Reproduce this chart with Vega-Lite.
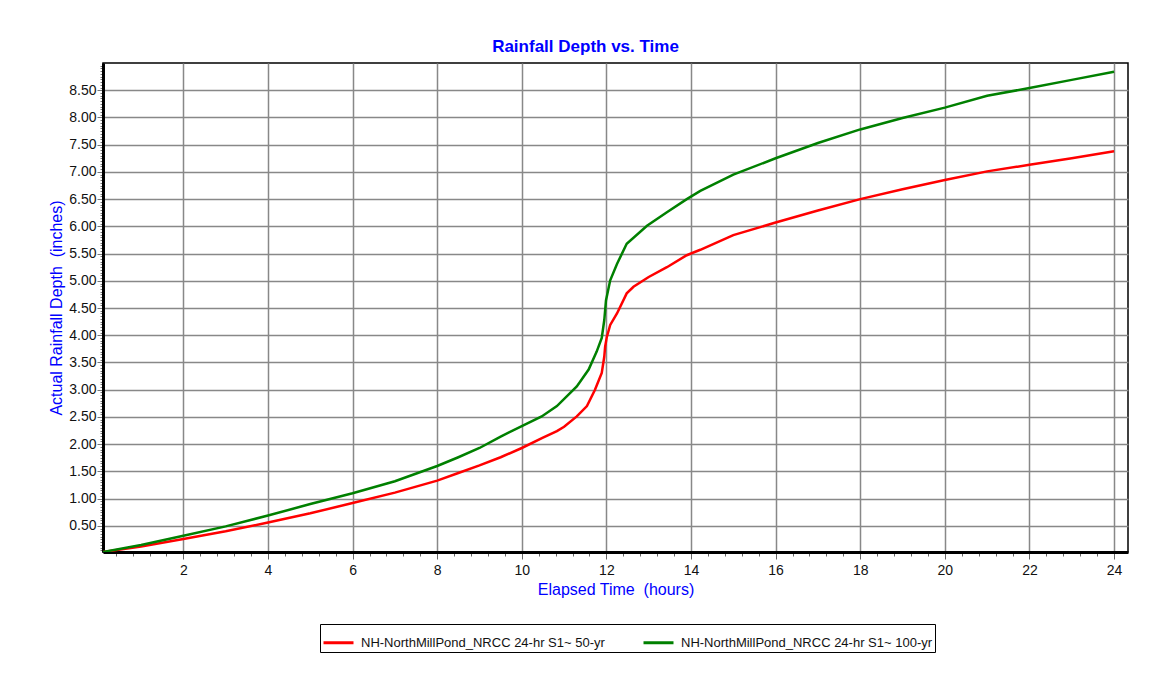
{
  "$schema": "https://vega.github.io/schema/vega-lite/v6.json",
  "width": 1025,
  "height": 489,
  "autosize": {"type": "none"},
  "padding": {"left": 103, "top": 63, "right": 34, "bottom": 123},
  "background": "white",
  "title": {
    "text": "Rainfall Depth vs. Time",
    "color": "#0000FF",
    "font": "Liberation Sans",
    "fontSize": 17,
    "fontWeight": "bold",
    "anchor": "middle",
    "baseline": "alphabetic",
    "offset": -10,
    "dx": -30
  },
  "config": {
    "view": {"stroke": "black", "strokeWidth": 1.5},
    "font": "Liberation Sans"
  },
  "data": {
    "values": [
      {"t": 0.1, "depth": 0.02, "series": "NH-NorthMillPond_NRCC 24-hr S1~ 50-yr"},
      {"t": 1, "depth": 0.12, "series": "NH-NorthMillPond_NRCC 24-hr S1~ 50-yr"},
      {"t": 2, "depth": 0.26, "series": "NH-NorthMillPond_NRCC 24-hr S1~ 50-yr"},
      {"t": 3, "depth": 0.40, "series": "NH-NorthMillPond_NRCC 24-hr S1~ 50-yr"},
      {"t": 4, "depth": 0.56, "series": "NH-NorthMillPond_NRCC 24-hr S1~ 50-yr"},
      {"t": 5, "depth": 0.73, "series": "NH-NorthMillPond_NRCC 24-hr S1~ 50-yr"},
      {"t": 6, "depth": 0.92, "series": "NH-NorthMillPond_NRCC 24-hr S1~ 50-yr"},
      {"t": 7, "depth": 1.11, "series": "NH-NorthMillPond_NRCC 24-hr S1~ 50-yr"},
      {"t": 8, "depth": 1.33, "series": "NH-NorthMillPond_NRCC 24-hr S1~ 50-yr"},
      {"t": 8.5, "depth": 1.47, "series": "NH-NorthMillPond_NRCC 24-hr S1~ 50-yr"},
      {"t": 9, "depth": 1.61, "series": "NH-NorthMillPond_NRCC 24-hr S1~ 50-yr"},
      {"t": 9.5, "depth": 1.76, "series": "NH-NorthMillPond_NRCC 24-hr S1~ 50-yr"},
      {"t": 10, "depth": 1.93, "series": "NH-NorthMillPond_NRCC 24-hr S1~ 50-yr"},
      {"t": 10.5, "depth": 2.12, "series": "NH-NorthMillPond_NRCC 24-hr S1~ 50-yr"},
      {"t": 10.83, "depth": 2.24, "series": "NH-NorthMillPond_NRCC 24-hr S1~ 50-yr"},
      {"t": 11.0, "depth": 2.32, "series": "NH-NorthMillPond_NRCC 24-hr S1~ 50-yr"},
      {"t": 11.3, "depth": 2.51, "series": "NH-NorthMillPond_NRCC 24-hr S1~ 50-yr"},
      {"t": 11.54, "depth": 2.70, "series": "NH-NorthMillPond_NRCC 24-hr S1~ 50-yr"},
      {"t": 11.73, "depth": 3.00, "series": "NH-NorthMillPond_NRCC 24-hr S1~ 50-yr"},
      {"t": 11.89, "depth": 3.31, "series": "NH-NorthMillPond_NRCC 24-hr S1~ 50-yr"},
      {"t": 11.95, "depth": 3.61, "series": "NH-NorthMillPond_NRCC 24-hr S1~ 50-yr"},
      {"t": 11.97, "depth": 3.79, "series": "NH-NorthMillPond_NRCC 24-hr S1~ 50-yr"},
      {"t": 12.01, "depth": 3.97, "series": "NH-NorthMillPond_NRCC 24-hr S1~ 50-yr"},
      {"t": 12.09, "depth": 4.19, "series": "NH-NorthMillPond_NRCC 24-hr S1~ 50-yr"},
      {"t": 12.25, "depth": 4.40, "series": "NH-NorthMillPond_NRCC 24-hr S1~ 50-yr"},
      {"t": 12.48, "depth": 4.77, "series": "NH-NorthMillPond_NRCC 24-hr S1~ 50-yr"},
      {"t": 12.64, "depth": 4.89, "series": "NH-NorthMillPond_NRCC 24-hr S1~ 50-yr"},
      {"t": 13.0, "depth": 5.07, "series": "NH-NorthMillPond_NRCC 24-hr S1~ 50-yr"},
      {"t": 13.43, "depth": 5.25, "series": "NH-NorthMillPond_NRCC 24-hr S1~ 50-yr"},
      {"t": 13.9, "depth": 5.47, "series": "NH-NorthMillPond_NRCC 24-hr S1~ 50-yr"},
      {"t": 14.22, "depth": 5.57, "series": "NH-NorthMillPond_NRCC 24-hr S1~ 50-yr"},
      {"t": 15, "depth": 5.84, "series": "NH-NorthMillPond_NRCC 24-hr S1~ 50-yr"},
      {"t": 16, "depth": 6.07, "series": "NH-NorthMillPond_NRCC 24-hr S1~ 50-yr"},
      {"t": 17, "depth": 6.29, "series": "NH-NorthMillPond_NRCC 24-hr S1~ 50-yr"},
      {"t": 18, "depth": 6.50, "series": "NH-NorthMillPond_NRCC 24-hr S1~ 50-yr"},
      {"t": 19, "depth": 6.68, "series": "NH-NorthMillPond_NRCC 24-hr S1~ 50-yr"},
      {"t": 20, "depth": 6.85, "series": "NH-NorthMillPond_NRCC 24-hr S1~ 50-yr"},
      {"t": 21, "depth": 7.01, "series": "NH-NorthMillPond_NRCC 24-hr S1~ 50-yr"},
      {"t": 22, "depth": 7.13, "series": "NH-NorthMillPond_NRCC 24-hr S1~ 50-yr"},
      {"t": 23, "depth": 7.25, "series": "NH-NorthMillPond_NRCC 24-hr S1~ 50-yr"},
      {"t": 24, "depth": 7.38, "series": "NH-NorthMillPond_NRCC 24-hr S1~ 50-yr"},
      {"t": 0.1, "depth": 0.02, "series": "NH-NorthMillPond_NRCC 24-hr S1~ 100-yr"},
      {"t": 1, "depth": 0.15, "series": "NH-NorthMillPond_NRCC 24-hr S1~ 100-yr"},
      {"t": 2, "depth": 0.32, "series": "NH-NorthMillPond_NRCC 24-hr S1~ 100-yr"},
      {"t": 3, "depth": 0.49, "series": "NH-NorthMillPond_NRCC 24-hr S1~ 100-yr"},
      {"t": 4, "depth": 0.69, "series": "NH-NorthMillPond_NRCC 24-hr S1~ 100-yr"},
      {"t": 5, "depth": 0.90, "series": "NH-NorthMillPond_NRCC 24-hr S1~ 100-yr"},
      {"t": 6, "depth": 1.10, "series": "NH-NorthMillPond_NRCC 24-hr S1~ 100-yr"},
      {"t": 7, "depth": 1.32, "series": "NH-NorthMillPond_NRCC 24-hr S1~ 100-yr"},
      {"t": 8, "depth": 1.60, "series": "NH-NorthMillPond_NRCC 24-hr S1~ 100-yr"},
      {"t": 8.5, "depth": 1.76, "series": "NH-NorthMillPond_NRCC 24-hr S1~ 100-yr"},
      {"t": 9, "depth": 1.93, "series": "NH-NorthMillPond_NRCC 24-hr S1~ 100-yr"},
      {"t": 9.5, "depth": 2.14, "series": "NH-NorthMillPond_NRCC 24-hr S1~ 100-yr"},
      {"t": 10, "depth": 2.33, "series": "NH-NorthMillPond_NRCC 24-hr S1~ 100-yr"},
      {"t": 10.47, "depth": 2.51, "series": "NH-NorthMillPond_NRCC 24-hr S1~ 100-yr"},
      {"t": 10.83, "depth": 2.70, "series": "NH-NorthMillPond_NRCC 24-hr S1~ 100-yr"},
      {"t": 11.3, "depth": 3.06, "series": "NH-NorthMillPond_NRCC 24-hr S1~ 100-yr"},
      {"t": 11.58, "depth": 3.37, "series": "NH-NorthMillPond_NRCC 24-hr S1~ 100-yr"},
      {"t": 11.77, "depth": 3.70, "series": "NH-NorthMillPond_NRCC 24-hr S1~ 100-yr"},
      {"t": 11.89, "depth": 3.95, "series": "NH-NorthMillPond_NRCC 24-hr S1~ 100-yr"},
      {"t": 11.95, "depth": 4.28, "series": "NH-NorthMillPond_NRCC 24-hr S1~ 100-yr"},
      {"t": 11.99, "depth": 4.64, "series": "NH-NorthMillPond_NRCC 24-hr S1~ 100-yr"},
      {"t": 12.09, "depth": 5.01, "series": "NH-NorthMillPond_NRCC 24-hr S1~ 100-yr"},
      {"t": 12.25, "depth": 5.31, "series": "NH-NorthMillPond_NRCC 24-hr S1~ 100-yr"},
      {"t": 12.48, "depth": 5.68, "series": "NH-NorthMillPond_NRCC 24-hr S1~ 100-yr"},
      {"t": 12.96, "depth": 6.01, "series": "NH-NorthMillPond_NRCC 24-hr S1~ 100-yr"},
      {"t": 13.43, "depth": 6.26, "series": "NH-NorthMillPond_NRCC 24-hr S1~ 100-yr"},
      {"t": 13.9, "depth": 6.50, "series": "NH-NorthMillPond_NRCC 24-hr S1~ 100-yr"},
      {"t": 14.22, "depth": 6.65, "series": "NH-NorthMillPond_NRCC 24-hr S1~ 100-yr"},
      {"t": 15, "depth": 6.95, "series": "NH-NorthMillPond_NRCC 24-hr S1~ 100-yr"},
      {"t": 16, "depth": 7.25, "series": "NH-NorthMillPond_NRCC 24-hr S1~ 100-yr"},
      {"t": 17, "depth": 7.53, "series": "NH-NorthMillPond_NRCC 24-hr S1~ 100-yr"},
      {"t": 18, "depth": 7.78, "series": "NH-NorthMillPond_NRCC 24-hr S1~ 100-yr"},
      {"t": 19, "depth": 7.99, "series": "NH-NorthMillPond_NRCC 24-hr S1~ 100-yr"},
      {"t": 20, "depth": 8.18, "series": "NH-NorthMillPond_NRCC 24-hr S1~ 100-yr"},
      {"t": 21, "depth": 8.40, "series": "NH-NorthMillPond_NRCC 24-hr S1~ 100-yr"},
      {"t": 22, "depth": 8.54, "series": "NH-NorthMillPond_NRCC 24-hr S1~ 100-yr"},
      {"t": 23, "depth": 8.69, "series": "NH-NorthMillPond_NRCC 24-hr S1~ 100-yr"},
      {"t": 24, "depth": 8.84, "series": "NH-NorthMillPond_NRCC 24-hr S1~ 100-yr"}
    ]
  },
  "mark": {"type": "line", "strokeWidth": 2.5, "clip": true},
  "encoding": {
    "x": {
      "field": "t",
      "type": "quantitative",
      "scale": {"domain": [0.1, 24.33], "nice": false, "zero": false},
      "axis": {
        "title": "Elapsed Time\u00a0 (hours)",
        "titleColor": "#0000FF",
        "titleFont": "Liberation Sans",
        "titleFontSize": 16,
        "titleFontWeight": "normal",
        "titlePadding": 4,
        "values": [0.4,0.8,1.2,1.6,2,2.4,2.8,3.2,3.6,4,4.4,4.8,5.2,5.6,6,6.4,6.8,7.2,7.6,8,8.4,8.8,9.2,9.6,10,10.4,10.8,11.2,11.6,12,12.4,12.8,13.2,13.6,14,14.4,14.8,15.2,15.6,16,16.4,16.8,17.2,17.6,18,18.4,18.8,19.2,19.6,20,20.4,20.8,21.2,21.6,22,22.4,22.8,23.2,23.6,24],
        "labelExpr": "abs(datum.value/2 - round(datum.value/2)) < 0.001 ? format(datum.value, 'd') : ''",
        "labelOverlap": false,
        "labelFlush": false,
        "labelFontSize": 14,
        "labelColor": "#111",
        "labelPadding": 4,
        "domainColor": "black",
        "domainWidth": 3,
        "tickColor": "#666",
        "tickWidth": 1,
        "tickSize": {"condition": {"test": "abs(datum.value/2 - round(datum.value/2)) < 0.001", "value": 7}, "value": 4},
        "grid": true,
        "gridColor": "#888",
        "gridWidth": 1.5,
        "gridOpacity": {"condition": {"test": "abs(datum.value/2 - round(datum.value/2)) < 0.001", "value": 1}, "value": 0}
      }
    },
    "y": {
      "field": "depth",
      "type": "quantitative",
      "scale": {"domain": [0.02, 9.0], "nice": false, "zero": false},
      "axis": {
        "title": "Actual Rainfall Depth\u00a0 (inches)",
        "titleColor": "#0000FF",
        "titleFont": "Liberation Sans",
        "titleFontSize": 16,
        "titleFontWeight": "normal",
        "titlePadding": 4,
        "values": [0.05,0.1,0.15,0.2,0.25,0.3,0.35,0.4,0.45,0.5,0.55,0.6,0.65,0.7,0.75,0.8,0.85,0.9,0.95,1,1.05,1.1,1.15,1.2,1.25,1.3,1.35,1.4,1.45,1.5,1.55,1.6,1.65,1.7,1.75,1.8,1.85,1.9,1.95,2,2.05,2.1,2.15,2.2,2.25,2.3,2.35,2.4,2.45,2.5,2.55,2.6,2.65,2.7,2.75,2.8,2.85,2.9,2.95,3,3.05,3.1,3.15,3.2,3.25,3.3,3.35,3.4,3.45,3.5,3.55,3.6,3.65,3.7,3.75,3.8,3.85,3.9,3.95,4,4.05,4.1,4.15,4.2,4.25,4.3,4.35,4.4,4.45,4.5,4.55,4.6,4.65,4.7,4.75,4.8,4.85,4.9,4.95,5,5.05,5.1,5.15,5.2,5.25,5.3,5.35,5.4,5.45,5.5,5.55,5.6,5.65,5.7,5.75,5.8,5.85,5.9,5.95,6,6.05,6.1,6.15,6.2,6.25,6.3,6.35,6.4,6.45,6.5,6.55,6.6,6.65,6.7,6.75,6.8,6.85,6.9,6.95,7,7.05,7.1,7.15,7.2,7.25,7.3,7.35,7.4,7.45,7.5,7.55,7.6,7.65,7.7,7.75,7.8,7.85,7.9,7.95,8,8.05,8.1,8.15,8.2,8.25,8.3,8.35,8.4,8.45,8.5,8.55,8.6,8.65,8.7,8.75,8.8,8.85,8.9,8.95],
        "labelExpr": "abs(datum.value*2 - round(datum.value*2)) < 0.001 ? format(datum.value, '.2f') : ''",
        "labelOverlap": false,
        "labelFlush": false,
        "labelFontSize": 14,
        "labelColor": "#111",
        "labelPadding": 1,
        "domainColor": "black",
        "domainWidth": 3,
        "tickColor": "#777",
        "tickWidth": 1,
        "tickSize": {"condition": {"test": "abs(datum.value*2 - round(datum.value*2)) < 0.001", "value": 6}, "value": 3},
        "grid": true,
        "gridColor": "#888",
        "gridWidth": 1.5,
        "gridOpacity": {"condition": {"test": "abs(datum.value*2 - round(datum.value*2)) < 0.001", "value": 1}, "value": 0}
      }
    },
    "color": {
      "field": "series",
      "type": "nominal",
      "scale": {
        "domain": ["NH-NorthMillPond_NRCC 24-hr S1~ 50-yr", "NH-NorthMillPond_NRCC 24-hr S1~ 100-yr"],
        "range": ["#FF0000", "#008000"]
      },
      "legend": {
        "title": null,
        "orient": "none",
        "legendX": 217,
        "legendY": 561,
        "direction": "horizontal",
        "columns": 2,
        "columnPadding": 32,
        "symbolType": "stroke",
        "symbolSize": 900,
        "symbolStrokeWidth": 3,
        "labelFont": "Liberation Sans",
        "labelFontSize": 13,
        "labelColor": "#111",
        "labelLimit": 400,
        "labelOffset": 6,
        "padding": 2,
        "strokeColor": "black",
        "fillColor": "white"
      }
    }
  }
}
